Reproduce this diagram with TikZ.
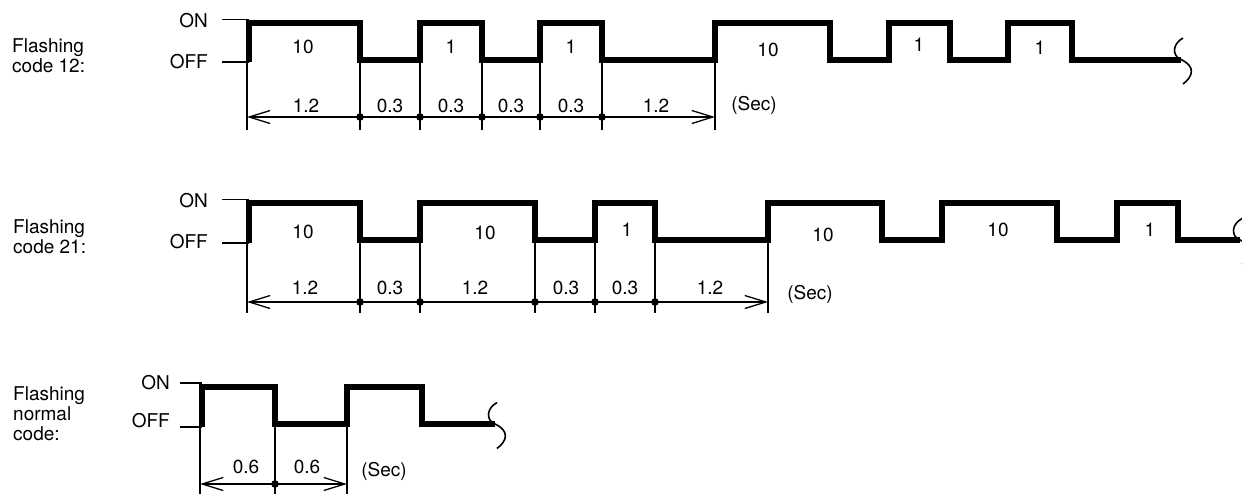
\documentclass[tikz,border=0pt]{standalone}
\usepackage{fontspec}
\setmainfont{TeX Gyre Heros}
\usetikzlibrary{arrows.meta}

\begin{document}
\begin{tikzpicture}
    [x=1pt,y=-1pt,>={Straight Barb[length=21pt,width=13pt]},
      every node/.style={inner sep=0pt,font=\fontsize{19}{20}\selectfont},
      wave/.style={line width=6pt},
      thinline/.style={line width=1.3pt},
      brk/.pic={\draw[line width=1.6pt] (2,-21.5) .. controls (-9,-15.5) and (-9,-3.5) .. (0,0)
                 .. controls (15,7) and (12,17) .. (2,24.5);}]
      \useasboundingbox (0,0) rectangle (1242,493);

      % flashing code 12
      \node[anchor=north west,align=left] (name1) at (12,38) {Flashing\\code 12:};
      \node[anchor=east] (on1) at (208,21) {ON};
      \node[anchor=east] (off1) at (208,62) {OFF};
      \draw[thinline] (222,19.5) -- (249,19.5) (222,62) -- (249,62);
      \draw[wave] (249,62) |- (360,22.5) |- (420,59.5) |- (482,22.5) |- (540,59.5) |- (602,22.5)
        |- (715,59.5) |- (830,22.5) |- (889,59.5) |- (950,22.5) |- (1008,59.5) |- (1072,22.5) |- (1181,59.5);
      \pic at (1181,59.5) {brk};

      \node (p1n1) at (303,47) {10};
      \node (p1n2) at (451,47) {1};
      \node (p1n3) at (571,47) {1};
      \node (p1n4) at (768,50) {10};
      \node (p1n5) at (919,45) {1};
      \node (p1n6) at (1040,48) {1};

      \foreach \x in {247,360,420,482,540,602,715}
        \draw[thinline] (\x,62) -- (\x,130);
      \draw[thinline,<->] (247,117) -- (715,117);
      \foreach \x in {360,420,482,540,602}
        \fill (\x,117) circle [radius=3.8pt];
      \node (d1n1) at (306,105.5) {1.2};
      \node (d1n2) at (390,105.5) {0.3};
      \node (d1n3) at (451,105.5) {0.3};
      \node (d1n4) at (511,105.5) {0.3};
      \node (d1n5) at (571,105.5) {0.3};
      \node (d1n6) at (656,105.5) {1.2};
      \node (sec1) at (754,105) {(Sec)};

      % flashing code 21
      \node[anchor=north west,align=left] (name2) at (13,219) {Flashing\\code 21:};
      \node[anchor=east] (on2) at (208,201) {ON};
      \node[anchor=east] (off2) at (208,242) {OFF};
      \draw[thinline] (222,199.5) -- (249,199.5) (222,243) -- (249,243);
      \draw[wave] (249,243) |- (360,203) |- (420,240) |- (535,203) |- (595,240) |- (655,203)
        |- (768,240) |- (882,203) |- (942,240) |- (1057,203) |- (1117,240) |- (1178,203) |- (1240,240);
      \pic at (1240,240) {brk};

      \node (p2n1) at (303,232) {10};
      \node (p2n2) at (485,232.5) {10};
      \node (p2n3) at (627,230) {1};
      \node (p2n4) at (823,235) {10};
      \node (p2n5) at (998,230) {10};
      \node (p2n6) at (1150,230) {1};

      \foreach \x in {247,360,420,535,595,655,768}
        \draw[thinline] (\x,243) -- (\x,313);
      \draw[thinline,<->] (247,302) -- (768,302);
      \foreach \x in {360,420,535,595,655}
        \fill (\x,302) circle [radius=3.8pt];
      \node (d2n1) at (305,287.5) {1.2};
      \node (d2n2) at (390,287.5) {0.3};
      \node (d2n3) at (475,287.5) {1.2};
      \node (d2n4) at (566,287.5) {0.3};
      \node (d2n5) at (625,287.5) {0.3};
      \node (d2n6) at (710,287.5) {1.2};
      \node (sec2) at (810,294) {(Sec)};

      % flashing normal code
      \node[anchor=north west,align=left] (name3) at (13,386) {Flashing\\normal\\code:};
      \node[anchor=east] (on3) at (170,383) {ON};
      \node[anchor=east] (off3) at (170,421) {OFF};
      \draw[thinline] (180,383) -- (202,383) (180,427) -- (202,427);
      \draw[wave] (202,427) |- (275,387) |- (347,424) |- (422,387) |- (495,424);
      \pic at (495,424) {brk};

      \foreach \x in {200,275,347}
        \draw[thinline] (\x,427) -- (\x,496);
      \draw[thinline,<->] (200,484) -- (347,484);
      \fill (275,484) circle [radius=3.8pt];
      \node (d3n1) at (246,467) {0.6};
      \node (d3n2) at (307,467) {0.6};
      \node (sec3) at (384,471) {(Sec)};

\end{tikzpicture}
\end{document}
